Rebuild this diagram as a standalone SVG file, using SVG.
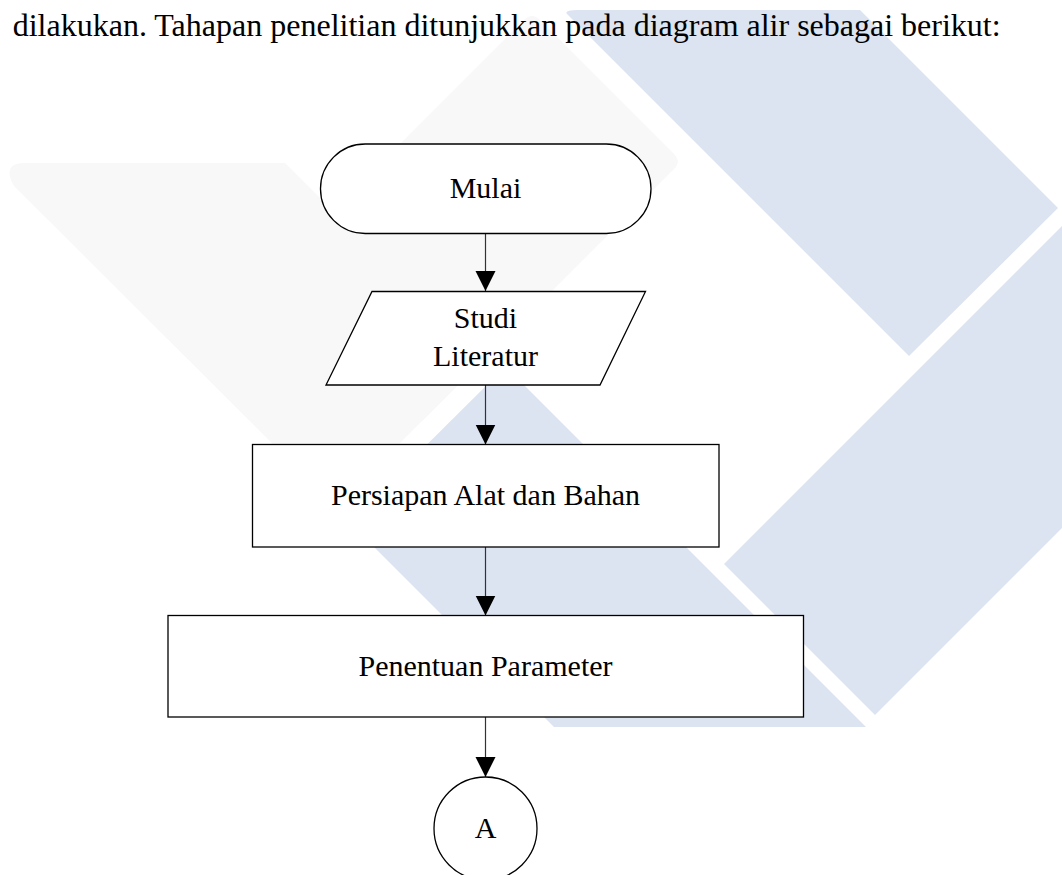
<svg xmlns="http://www.w3.org/2000/svg" width="1062" height="875" viewBox="0 0 1062 875">
<style>
.bg{fill:#ffffff}
.wm-gray{fill:#f8f8f8}
.wm-blue{fill:#dce3f1}
.shape{fill:#ffffff;stroke:#000000;stroke-width:1.3}
.lbl{font-family:"Liberation Serif","Times New Roman",serif;font-size:30px;fill:#000000;text-anchor:middle}
.hdr{font-family:"Liberation Serif","Times New Roman",serif;font-size:32px;fill:#000000}
.conn{stroke:#333333;stroke-width:1.2;fill:none;marker-end:url(#arrow)}
</style>
<defs>
<marker id="arrow" markerUnits="userSpaceOnUse" markerWidth="22" markerHeight="22" refX="20" refY="10" orient="auto">
<path d="M0,0 L20,10 L0,20 Z" fill="#000000"/>
</marker>
</defs>
<rect class="bg" x="0" y="0" width="1062" height="875"/>
<g id="watermark">
<path class="wm-gray" d="M22,163 L285,163 L482.5,360.5 L336,507 L14,186 Q2,165 22,163 Z"/>
<path class="wm-gray" d="M272,272 L524,20 Q532,12 540,20 L674,154 Q681.5,161.5 674,169 L421.5,421.5 Z"/>
<path class="wm-blue" d="M578,10 L860,10 L1058,208 L909,356 L568,15 Q562,10 578,10 Z"/>
<path class="wm-blue" d="M724,564 L1100,188 L1120,188 L1120,470 L875,715 Z"/>
<path class="wm-blue" d="M505.5,366.5 L866,727 L554,727 L349,522 Z"/>
</g>
<text class="hdr" x="12.7" y="36">dilakukan. Tahapan penelitian ditunjukkan pada diagram alir sebagai berikut:</text>
<g id="connectors">
<line class="conn" x1="485.5" y1="233.5" x2="485.5" y2="291"/>
<line class="conn" x1="485.5" y1="385" x2="485.5" y2="444.5"/>
<line class="conn" x1="485.5" y1="547" x2="485.5" y2="615.5"/>
<line class="conn" x1="485.5" y1="717" x2="485.5" y2="777"/>
</g>
<g id="node-mulai">
<rect class="shape" x="320.5" y="144" width="330.5" height="89.5" rx="44.75" ry="44.75"/>
<text class="lbl" x="485.5" y="198">Mulai</text>
</g>
<g id="node-studi">
<polygon class="shape" points="372,291.5 645.5,291.5 600,385 326,385"/>
<text class="lbl" x="485.5" y="328">Studi</text>
<text class="lbl" x="485.5" y="365.5">Literatur</text>
</g>
<g id="node-persiapan">
<rect class="shape" x="252.5" y="444.5" width="466.5" height="102.5"/>
<text class="lbl" x="485.5" y="505">Persiapan Alat dan Bahan</text>
</g>
<g id="node-penentuan">
<rect class="shape" x="168" y="615.5" width="635.5" height="101.5"/>
<text class="lbl" x="485.5" y="675.7">Penentuan Parameter</text>
</g>
<g id="node-a">
<circle class="shape" cx="485.5" cy="828.5" r="51.5"/>
<text class="lbl" x="485.5" y="838">A</text>
</g>
</svg>
